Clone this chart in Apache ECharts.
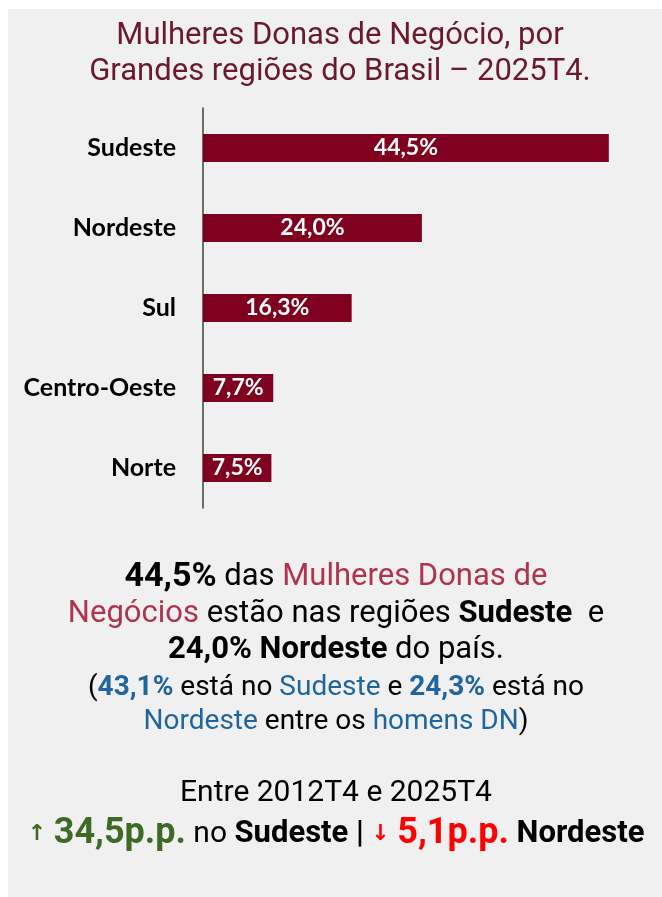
<!DOCTYPE html>
<html lang="pt">
<head>
    <meta charset="UTF-8">
    <title>Mulheres Donas de Negócio por região</title>
    <script type="text/javascript" src="https://cdn.jsdelivr.net/npm/echarts@6/dist/echarts.min.js"></script>
    <style>
        html, body { margin: 0; padding: 0; background: #ffffff; }
        #chart { width: 662px; height: 897px; }
    </style>
</head>
<body>
<div id="chart"></div>
<script>
    // dados
    var regioes = ['Sudeste', 'Nordeste', 'Sul', 'Centro-Oeste', 'Norte'];
    var valores = [44.5, 24.0, 16.3, 7.7, 7.5];

    var corBarra = '#800020';
    var fonte = 'Roboto, "Liberation Sans", sans-serif';

    function pct(v) {
        return v.toFixed(1).replace('.', ',') + '%';
    }

    // texto centrado com partes ricas
    function linha(y, txt, rich) {
        return {
            type: 'text',
            x: 336,
            y: y,
            style: {
                text: txt,
                rich: rich,
                align: 'center',
                verticalAlign: 'middle'
            }
        };
    }

    var rich1 = {
        b: { fontFamily: fonte, fontSize: 34, fontWeight: 'bold', fill: '#000' },
        n: { fontFamily: fonte, fontSize: 31, fill: '#000' },
        p: { fontFamily: fonte, fontSize: 31, fill: '#b0334f' },
        nb: { fontFamily: fonte, fontSize: 31, fontWeight: 'bold', fill: '#000' }
    };
    var rich2 = {
        n: { fontFamily: fonte, fontSize: 28, fill: '#000' },
        az: { fontFamily: fonte, fontSize: 28, fill: '#1f65a0' },
        azb: { fontFamily: fonte, fontSize: 28, fontWeight: 'bold', fill: '#1f65a0' }
    };
    var rich3 = {
        n: { fontFamily: fonte, fontSize: 30, fill: '#000' },
        nb: { fontFamily: fonte, fontSize: 31, fontWeight: 'bold', fill: '#000' },
        up: { fontFamily: 'DejaVu Sans', fontSize: 22, fontWeight: 'bold', fill: '#3d6b26' },
        g: { fontFamily: fonte, fontSize: 36, fontWeight: 'bold', fill: '#3d6b26' },
        dn: { fontFamily: 'DejaVu Sans', fontSize: 22, fontWeight: 'bold', fill: '#ff0000' },
        r: { fontFamily: fonte, fontSize: 36, fontWeight: 'bold', fill: '#ff0000' }
    };

    var option = {
        backgroundColor: '#ffffff',
        animation: false,
        grid: {
            left: 203,
            right: 3,
            top: 108,
            height: 400
        },
        xAxis: {
            type: 'value',
            min: 0,
            max: 50,
            show: false
        },
        yAxis: {
            type: 'category',
            data: regioes,
            inverse: true,
            axisLine: { show: true, lineStyle: { color: '#404040', width: 1.5 } },
            axisTick: { show: false },
            axisLabel: {
                margin: 27,
                fontFamily: 'Lato, "Open Sans", sans-serif',
                fontWeight: 'bold',
                fontSize: 25,
                color: '#000'
            }
        },
        series: [{
            type: 'bar',
            data: valores,
            barWidth: 28,
            itemStyle: { color: corBarra },
            label: {
                show: true,
                position: 'inside',
                formatter: function (p) { return pct(p.value); },
                fontFamily: 'Lato, "Open Sans", sans-serif',
                fontWeight: 'bold',
                fontSize: 23,
                color: '#fff'
            }
        }],
        graphic: [
            {
                type: 'rect',
                z: -10,
                shape: { x: 8, y: 9, width: 654, height: 888 },
                style: { fill: '#f0f0f0' }
            },
            {
                type: 'text',
                x: 340,
                y: 36,
                style: {
                    text: 'Mulheres Donas de Negócio, por',
                    fontFamily: fonte, fontSize: 31, fill: '#6b1a2e',
                    align: 'center', verticalAlign: 'middle'
                }
            },
            {
                type: 'text',
                x: 340,
                y: 72,
                style: {
                    text: 'Grandes regiões do Brasil – 2025T4.',
                    fontFamily: fonte, fontSize: 31, fill: '#6b1a2e',
                    align: 'center', verticalAlign: 'middle'
                }
            },
            linha(577, '{b|44,5%}{n| das }{p|Mulheres Donas de}', rich1),
            linha(614, '{p|Negócios}{n| estão nas regiões }{nb|Sudeste}{n|  e}', rich1),
            linha(650, '{nb|24,0% Nordeste}{n| do país.}', rich1),
            linha(688, '{n|(}{azb|43,1%}{n| está no }{az|Sudeste}{n| e }{azb|24,3%}{n| está no}', rich2),
            linha(722, '{az|Nordeste}{n| entre os }{az|homens DN}{n|)}', rich2),
            linha(793, '{n|Entre 2012T4 e 2025T4}', rich3),
            linha(834, '{up|↑ }{g|34,5p.p.}{n| no }{nb|Sudeste |}{n| }{dn|↓ }{r|5,1p.p.}{nb| Nordeste}', rich3)
        ]
    };

    var myChart = echarts.init(document.getElementById('chart'));
    myChart.setOption(option);
</script>
</body>
</html>
